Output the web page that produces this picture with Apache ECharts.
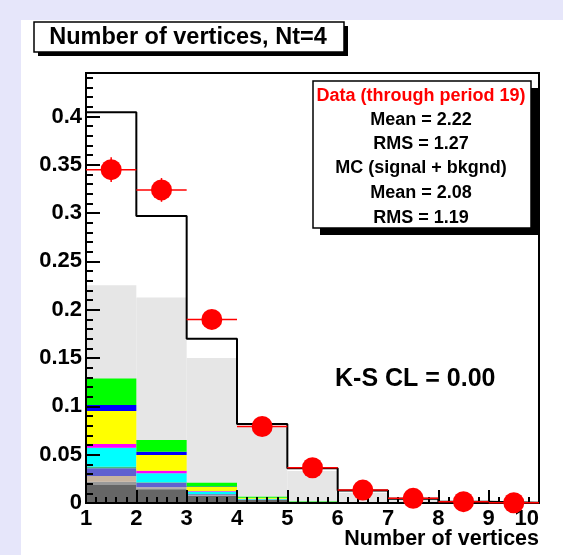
<!DOCTYPE html>
<html>
<head>
<meta charset="utf-8">
<script src="https://cdn.jsdelivr.net/npm/echarts@6/dist/echarts.min.js"></script>
<style>
  html, body { margin: 0; padding: 0; background: #e6e6fa; }
  #panel { position: absolute; left: 21px; top: 20px; right: 0; bottom: 0; background: #ffffff; }
  #chart { position: absolute; left: 0; top: 0; width: 563px; height: 555px; }
</style>
</head>
<body>
<div id="panel"></div>
<div id="chart"></div>
<script>
// bin edges of the histogram (number of vertices)
const binEdges = [1, 2, 3, 4, 5, 6, 7, 8, 9, 10];
const xTicks = [1, 2, 3, 4, 5, 6, 7, 8, 9, 10];

// data points (red) and their errors
const dataValues = [0.345, 0.324, 0.190, 0.0792, 0.0365, 0.0134, 0.0048, 0.0014, 0.0003];
const dataErrors = [0.0128, 0.0123, 0.0095, 0.006, 0.004, 0.0025, 0.0015, 0.0008, 0.0004];

// MC signal + bkgnd total (black step line)
const mcTotal = [0.4045, 0.297, 0.170, 0.0817, 0.036, 0.013, 0.0045, 0.0013, 0.0003];

// light gray background component
const grayValues = [0.2253, 0.2126, 0.150, 0.079, 0.033, 0.0107, 0.0035, 0.001, 0.0003];

// coloured stacked components, bottom to top
const stackColors = ['#666666', '#999999', '#c8b4a0', '#6060d0', '#40c080', '#00ffff', '#ff00ff', '#ffff00', '#0000ff', '#00ff00'];
const stackDarkGray = [0.0186, 0.0142, 0.0072, 0.003, 0.0005, 0, 0, 0, 0];
const stackMidGray  = [0.0034, 0.001, 0.0005, 0, 0, 0, 0, 0, 0];
const stackTan      = [0.0059, 0.001, 0.0003, 0, 0, 0, 0, 0, 0];
const stackSlate    = [0.008, 0.0048, 0.001, 0.0005, 0, 0, 0, 0, 0];
const stackTeal     = [0.0016, 0.0005, 0.0002, 0, 0, 0, 0, 0, 0];
const stackCyan     = [0.0197, 0.0092, 0.0028, 0.001, 0, 0, 0, 0, 0];
const stackMagenta  = [0.0038, 0.0027, 0.0005, 0, 0, 0, 0, 0, 0];
const stackYellow   = [0.0341, 0.0162, 0.004, 0.001, 0.0004, 0, 0, 0, 0];
const stackBlue     = [0.0062, 0.0034, 0.0005, 0, 0, 0, 0, 0, 0];
const stackGreen    = [0.0276, 0.0121, 0.004, 0.001, 0.0006, 0, 0, 0, 0];
const stackValues = [stackDarkGray, stackMidGray, stackTan, stackSlate, stackTeal,
  stackCyan, stackMagenta, stackYellow, stackBlue, stackGreen];

const FONT = '"Liberation Sans", Arial, Helvetica, sans-serif';

// filled histogram bars: [lo, hi, base, top]
const rectItem = (color) => (params, api) => {
  const p0 = api.coord([api.value(0), api.value(2)]);
  const p1 = api.coord([api.value(1), api.value(3)]);
  return {
    type: 'rect',
    shape: {
      x: Math.min(p0[0], p1[0]),
      y: Math.min(p0[1], p1[1]),
      width: Math.abs(p1[0] - p0[0]),
      height: Math.abs(p1[1] - p0[1]),
    },
    style: { fill: color },
  };
};

const histSeries = (values, bases, color, z) => ({
  type: 'custom',
  renderItem: rectItem(color),
  data: values.map((v, i) => [binEdges[i], binEdges[i + 1], bases[i], bases[i] + v]),
  encode: { x: [0, 1], y: [2, 3] },
  z: z,
  silent: true,
});

const series = [];
series.push(histSeries(grayValues, grayValues.map(() => 0), '#e6e6e6', 2));

let base = dataValues.map(() => 0);
stackValues.forEach((vals, k) => {
  series.push(histSeries(vals, base.slice(), stackColors[k], 3));
  base = base.map((b, i) => b + vals[i]);
});

// MC total as a step line
series.push({
  type: 'line',
  step: 'end',
  data: binEdges.map((e, i) => [e, mcTotal[Math.min(i, mcTotal.length - 1)]]),
  symbol: 'none',
  lineStyle: { color: '#000', width: 2 },
  z: 4,
  silent: true,
});

// data: horizontal bin-width bar plus vertical error bar
series.push({
  type: 'custom',
  renderItem: (params, api) => {
    const lo = api.value(0), hi = api.value(1), v = api.value(2), e = api.value(3);
    const c = (lo + hi) / 2;
    const a = api.coord([lo, v]), b = api.coord([hi, v]);
    const t = api.coord([c, v + e]), d = api.coord([c, Math.max(0, v - e)]);
    return {
      type: 'group',
      children: [
        { type: 'line', shape: { x1: a[0], y1: a[1], x2: b[0], y2: b[1] }, style: { stroke: '#ff0000', lineWidth: 1.5 } },
        { type: 'line', shape: { x1: t[0], y1: t[1], x2: d[0], y2: d[1] }, style: { stroke: '#ff0000', lineWidth: 1.5 } },
      ],
    };
  },
  data: dataValues.map((v, i) => [binEdges[i], binEdges[i + 1], v, dataErrors[i]]),
  encode: { x: [0, 1], y: 2 },
  z: 20,
  silent: true,
});
series.push({
  type: 'scatter',
  data: dataValues.map((v, i) => [(binEdges[i] + binEdges[i + 1]) / 2, v]),
  symbol: 'circle',
  symbolSize: 21,
  itemStyle: { color: '#ff0000', opacity: 1 },
  z: 21,
  silent: true,
});

const boxWithShadow = (x, y, w, h, dx, dy) => [
  { type: 'rect', shape: { x: x + dx, y: y + dy, width: w, height: h }, style: { fill: '#000' }, z: 30 },
  { type: 'rect', shape: { x: x, y: y, width: w, height: h }, style: { fill: '#fff', stroke: '#000', lineWidth: 1.5 }, z: 31 },
];

const text = (str, x, y, size, color, align) => ({
  type: 'text', z: 32,
  style: {
    text: str, x: x, y: y, fill: color || '#000',
    font: `bold ${size}px ${FONT}`,
    textAlign: align || 'center', textVerticalAlign: 'middle',
  },
});

const legendLines = [
  ['Data (through period 19)', '#ff0000'],
  ['Mean = 2.22', '#000'],
  ['RMS = 1.27', '#000'],
  ['MC (signal + bkgnd)', '#000'],
  ['Mean = 2.08', '#000'],
  ['RMS = 1.19', '#000'],
];
const legendY = [96, 120, 144, 168, 193, 218];

const graphic = [
  ...boxWithShadow(34, 22, 310, 30, 4, 4),
  text('Number of vertices, Nt=4', 188, 38, 23.5),
  ...boxWithShadow(313, 81, 218, 147, 7, 7),
  ...legendLines.map((l, i) => text(l[0], 421, legendY[i], 18, l[1])),
  text('K-S CL = 0.00', 335, 379, 25, '#000', 'left'),
  text('Number of vertices', 539, 539, 21.5, '#000', 'right'),
];

const chart = echarts.init(document.getElementById('chart'));
chart.setOption({
  backgroundColor: 'transparent',
  animation: false,
  grid: {
    left: 86, right: 24, top: 73, bottom: 52,
    show: true, borderColor: '#000', borderWidth: 2, backgroundColor: 'transparent',
  },
  xAxis: {
    type: 'value', min: xTicks[0], max: xTicks[xTicks.length - 1], interval: 1, z: 10,
    axisLine: { onZero: false, lineStyle: { color: '#000', width: 2 } },
    axisTick: { inside: true, length: 13, lineStyle: { color: '#000', width: 2 } },
    minorTick: { show: true, splitNumber: 5, length: 6, lineStyle: { color: '#000', width: 2 } },
    splitLine: { show: false },
    axisLabel: { color: '#000', fontSize: 22, fontWeight: 'bold', fontFamily: FONT, margin: 5, alignMaxLabel: 'right' },
  },
  yAxis: {
    type: 'value', min: 0, max: 0.445, interval: 0.05, z: 10,
    axisLine: { onZero: false, lineStyle: { color: '#000', width: 2 } },
    axisTick: { inside: true, length: 14, lineStyle: { color: '#000', width: 2 } },
    minorTick: { show: true, splitNumber: 5, length: 7, lineStyle: { color: '#000', width: 2 } },
    splitLine: { show: false },
    axisLabel: { color: '#000', fontSize: 22, fontWeight: 'bold', fontFamily: FONT, margin: 4, showMaxLabel: false },
  },
  graphic: graphic,
  series: series,
});
</script>
</body>
</html>
